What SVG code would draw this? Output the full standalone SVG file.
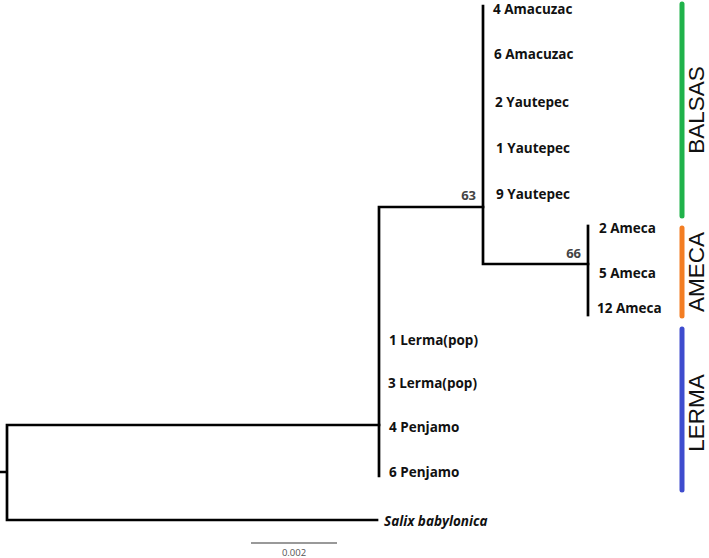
<svg xmlns="http://www.w3.org/2000/svg" width="709" height="558" viewBox="0 0 709 558">
<style>
.br{fill:none;stroke:#000;stroke-width:2.7;stroke-linecap:square}
.lbl{font-family:"Open Sans","Noto Sans","Liberation Sans",sans-serif;font-weight:bold;font-size:13.5px;fill:#111}
.bs{font-family:"Open Sans","Liberation Sans",sans-serif;font-weight:bold;font-size:13px;fill:#444;text-anchor:end}
.bar{fill:none;stroke-width:5;stroke-linecap:round}
.grp{font-family:"Liberation Sans",Arial,sans-serif;font-size:22.5px;fill:#111;text-anchor:middle}
</style>
<rect width="709" height="558" fill="#fff"/>
<g id="connectors">
  <path class="br" d="M1,472 H7 M7,425 V520 M7,425 H379 M7,520 H377"/>
  <path class="br" d="M379,207 V476 M379,207 H483"/>
  <path class="br" d="M483,6 V264 M483,264 H588"/>
  <path class="br" d="M588,226 V315"/>
</g>
<g id="bootstrap">
  <text class="bs" x="476" y="200">63</text>
  <text class="bs" x="581" y="258">66</text>
</g>
<g id="balsas-taxa">
  <text class="lbl" x="493" y="14">4 Amacuzac</text>
  <text class="lbl" x="494" y="59">6 Amacuzac</text>
  <text class="lbl" x="495" y="107">2 Yautepec</text>
  <text class="lbl" x="496" y="153">1 Yautepec</text>
  <text class="lbl" x="496" y="199">9 Yautepec</text>
</g>
<g id="ameca-taxa">
  <text class="lbl" x="599" y="233">2 Ameca</text>
  <text class="lbl" x="599" y="278">5 Ameca</text>
  <text class="lbl" x="597" y="313">12 Ameca</text>
</g>
<g id="lerma-taxa">
  <text class="lbl" x="389" y="345">1 Lerma(pop)</text>
  <text class="lbl" x="388" y="388">3 Lerma(pop)</text>
  <text class="lbl" x="389" y="432">4 Penjamo</text>
  <text class="lbl" x="389" y="477">6 Penjamo</text>
</g>
<g id="outgroup">
  <text class="lbl" x="384" y="526" font-style="italic">Salix babylonica</text>
</g>
<g id="group-balsas">
  <line class="bar" x1="682" y1="4" x2="682" y2="216" stroke="#1fb24a"/>
  <text class="grp" transform="translate(704,110) rotate(-90)">BALSAS</text>
</g>
<g id="group-ameca">
  <line class="bar" x1="682" y1="228" x2="682" y2="316" stroke="#f37d22"/>
  <text class="grp" transform="translate(704,272) rotate(-90)">AMECA</text>
</g>
<g id="group-lerma">
  <line class="bar" x1="682" y1="329" x2="682" y2="490" stroke="#3e4cce"/>
  <text class="grp" transform="translate(704,413) rotate(-90)">LERMA</text>
</g>
<g id="scale">
  <line x1="251" y1="543" x2="337" y2="543" stroke="#777" stroke-width="1.3"/>
  <text x="294" y="556" font-family="Open Sans,Liberation Sans,sans-serif" font-size="9.5" fill="#555" text-anchor="middle">0.002</text>
</g>
</svg>
